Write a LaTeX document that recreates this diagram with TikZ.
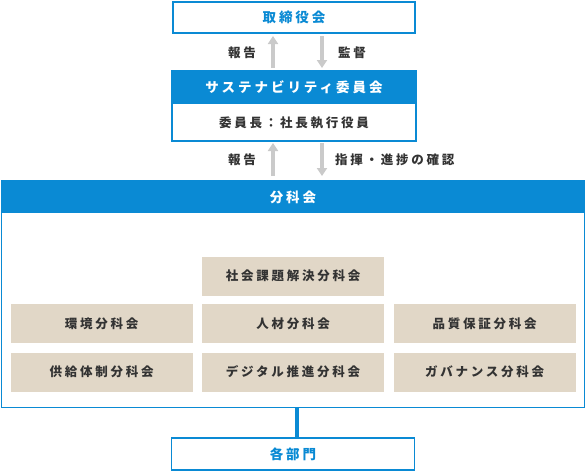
\documentclass[tikz,border=0pt]{standalone}
\usepackage{fontspec}
\setmainfont{Noto Sans CJK JP}
\usepackage{xcolor}
\usepackage{tikz}
\usetikzlibrary{arrows.meta, positioning, calc}
\definecolor{SC_BLUE}{HTML}{0A8AD4}
\definecolor{SC_BEIGE}{HTML}{E1D7C7}
\definecolor{SC_GRAY}{HTML}{CACACA}
\definecolor{SC_TEXT}{HTML}{333333}
\newfontfamily\jpsp[LetterSpace=22]{Noto Sans CJK JP}
\tikzset{
  bluebox/.style={
    rectangle, draw=SC_BLUE, line width=1.5pt, fill=white,
    minimum width=242pt, minimum height=31pt,
    text centered, inner sep=0pt,
    font=\fontsize{13.5}{15}\selectfont\jpsp\bfseries, text=SC_BLUE},
  headbar/.style={
    rectangle, fill=SC_BLUE, inner sep=0pt,
    text centered, text=white,
    font=\fontsize{13.5}{15}\selectfont\jpsp\bfseries},
  sub/.style={
    rectangle, fill=SC_BEIGE, inner sep=0pt,
    minimum width=182pt, minimum height=39pt,
    text centered, text=SC_TEXT,
    font=\fontsize{12.5}{14}\selectfont\jpsp\bfseries},
  lbl/.style={text=SC_TEXT, inner sep=0pt,
    font=\fontsize{12.5}{14}\selectfont\jpsp\bfseries},
  arr/.style={-{Triangle[length=8pt,width=10pt]}, line width=4pt, color=SC_GRAY},
}
\begin{document}
\begin{tikzpicture}[x=1pt, y=-1pt]
  \useasboundingbox (0,0) rectangle (586,471);

  % board
  \node[bluebox] (board) at (294,17.5) {取締役会};

  % sustainability committee
  \draw[SC_BLUE, line width=1.5pt, fill=white] (172,70.5) rectangle (416,141);
  \node[headbar, minimum width=244pt, minimum height=33pt] (scc) at (294,87)
    {サステナビリティ委員会};
  \node[lbl] (chair) at (294,122.5) {委員長：社長執行役員};
  \coordinate (scctop) at (294,70.5);
  \coordinate (sccbot) at (294,141);

  \draw[arr] (273,68) -- (273,36);
  \draw[arr] (322,36) -- (322,68);
  \node[lbl] (rep1) at (242,53) {報告};
  \node[lbl] (sup) at (352,53) {監督};

  % subcommittees
  \draw[SC_BLUE, line width=1.5pt, fill=white] (1.5,181) rectangle (584.5,407.5);
  \node[headbar, minimum width=583pt, minimum height=32pt] (bunka) at (293,197)
    {分科会};

  \draw[arr] (273,176) -- (273,143);
  \draw[arr] (322,143) -- (322,176);
  \node[lbl] (rep2) at (242,160) {報告};
  \node[lbl, anchor=west] (cmd) at (335,160) {指揮・進捗の確認};

  \node[sub] (social) at (293,276) {社会課題解決分科会};
  \node[sub] (env)  at (101.5,323.5) {環境分科会};
  \node[sub] (hr)   at (293,323.5) {人材分科会};
  \node[sub] (qa)   at (484.5,323.5) {品質保証分科会};
  \node[sub] (sc)   at (101.5,372) {供給体制分科会};
  \node[sub] (dx)   at (293,372) {デジタル推進分科会};
  \node[sub] (gov)  at (484.5,372) {ガバナンス分科会};

  % departments
  \node[bluebox, minimum width=243pt, minimum height=32pt] (dept) at (293,454)
    {各部門};
  \coordinate (boxbot) at (297,407.5);
  \draw[SC_BLUE, line width=4.5pt] (boxbot) -- (boxbot |- dept.north);
\end{tikzpicture}
\end{document}
